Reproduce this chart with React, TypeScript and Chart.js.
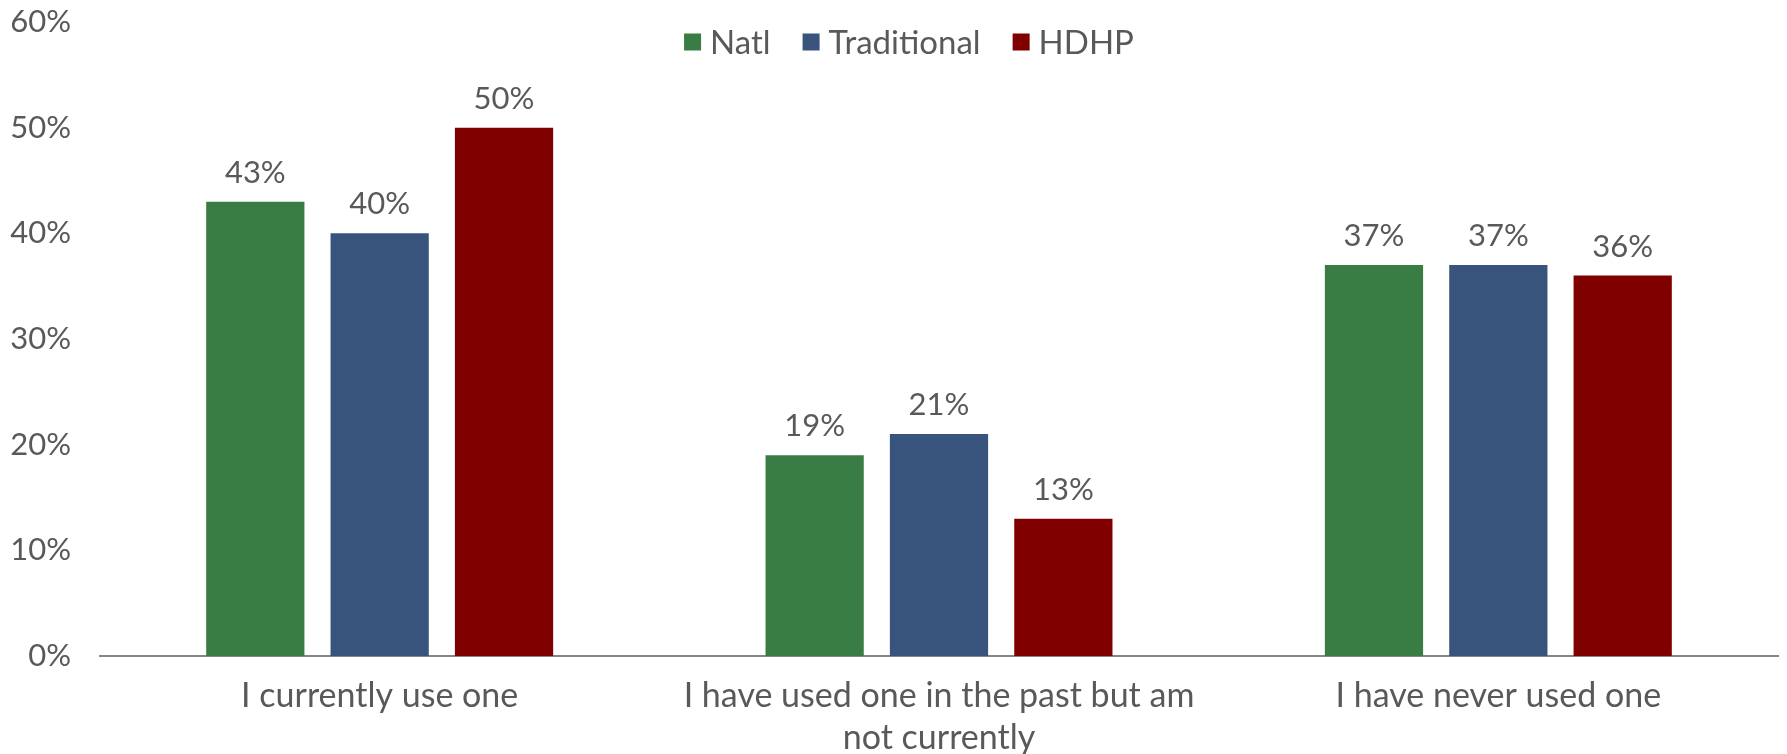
import React, { useEffect, useRef } from "react";
import { Chart, registerables } from "chart.js";

Chart.register(...registerables);

const categories: string[][] = [
  ["I currently use one"],
  ["I have used one in the past but am", "not currently"],
  ["I have never used one"],
];
const seriesNames = ["Natl", "Traditional", "HDHP"];
const natl = [43, 19, 37];
const traditional = [40, 21, 37];
const hdhp = [50, 13, 36];
const yTickValues = [0, 10, 20, 30, 40, 50, 60];

const colors = ["#3A7D44", "#38547C", "#800000"];
const TEXT = "#595959";
const FONT = "Lato, 'Open Sans', sans-serif";

const W = 1787;
const H = 754;

const dataLabelPlugin = {
  id: "dataLabels",
  afterDatasetsDraw(chart: any) {
    const ctx = chart.ctx;
    ctx.save();
    ctx.fillStyle = TEXT;
    ctx.font = `31px ${FONT}`;
    ctx.textAlign = "center";
    ctx.textBaseline = "middle";
    chart.data.datasets.forEach((ds: any, i: number) => {
      const meta = chart.getDatasetMeta(i);
      meta.data.forEach((bar: any, j: number) => {
        ctx.fillText(`${ds.data[j]}%`, bar.x, bar.y - 29);
      });
    });
    ctx.restore();
  },
};

const legendPlugin = {
  id: "customLegend",
  afterDraw(chart: any) {
    const ctx = chart.ctx;
    ctx.save();
    ctx.font = `33px ${FONT}`;
    ctx.textBaseline = "middle";
    const box = 17;
    const gapBoxText = 9;
    const gapItems = 32;
    const items = chart.data.datasets.map((ds: any) => ({
      label: ds.label,
      color: ds.backgroundColor,
      w: ctx.measureText(ds.label).width,
    }));
    const total =
      items.reduce((s: number, it: any) => s + box + gapBoxText + it.w, 0) +
      gapItems * (items.length - 1);
    let x = 909 - total / 2;
    const cy = 42;
    items.forEach((it: any) => {
      ctx.fillStyle = it.color;
      ctx.fillRect(x, cy - box / 2, box, box);
      x += box + gapBoxText;
      ctx.fillStyle = TEXT;
      ctx.textAlign = "left";
      ctx.fillText(it.label, x, cy + 1);
      x += it.w + gapItems;
    });
    ctx.restore();
  },
};

export default function App() {
  const ref = useRef<HTMLCanvasElement | null>(null);

  useEffect(() => {
    document.body.style.margin = "0";
    const canvas = ref.current;
    if (!canvas) return;
    const values = [natl, traditional, hdhp];
    const chart = new Chart(canvas, {
      type: "bar",
      data: {
        labels: categories,
        datasets: seriesNames.map((name, i) => ({
          label: name,
          data: values[i],
          backgroundColor: colors[i],
          borderWidth: 0,
          categoryPercentage: 0.667,
          barPercentage: 0.79,
        })),
      },
      options: {
        responsive: false,
        animation: false,
        devicePixelRatio: 1,
        layout: { padding: { top: 0, right: 9, left: 0, bottom: 0 } },
        plugins: {
          legend: { display: false },
          tooltip: { enabled: false },
        },
        scales: {
          x: {
            grid: { display: false, drawTicks: false },
            border: { display: true, color: "#868686", width: 2 },
            ticks: {
              color: TEXT,
              font: { family: FONT, size: 34, lineHeight: 1.24 },
              padding: 19,
              maxRotation: 0,
              autoSkip: false,
            },
            afterFit: (scale: any) => {
              scale.height = 98;
            },
          },
          y: {
            min: 0,
            max: 60,
            grid: { display: false, drawTicks: false },
            border: { display: false },
            afterBuildTicks: (scale: any) => {
              scale.ticks = yTickValues.map((v) => ({ value: v }));
            },
            ticks: {
              color: TEXT,
              font: { family: FONT, size: 31 },
              padding: 29,
              callback: (v: any) => `${v}%`,
            },
            afterFit: (scale: any) => {
              scale.width = 100;
              scale.paddingTop = 22;
              scale.paddingBottom = 0;
            },
          },
        },
      },
      plugins: [dataLabelPlugin, legendPlugin],
    });
    return () => chart.destroy();
  }, []);

  return (
    <div style={{ width: W, height: H, background: "#fff" }}>
      <canvas ref={ref} width={W} height={H} style={{ display: "block" }} />
    </div>
  );
}
